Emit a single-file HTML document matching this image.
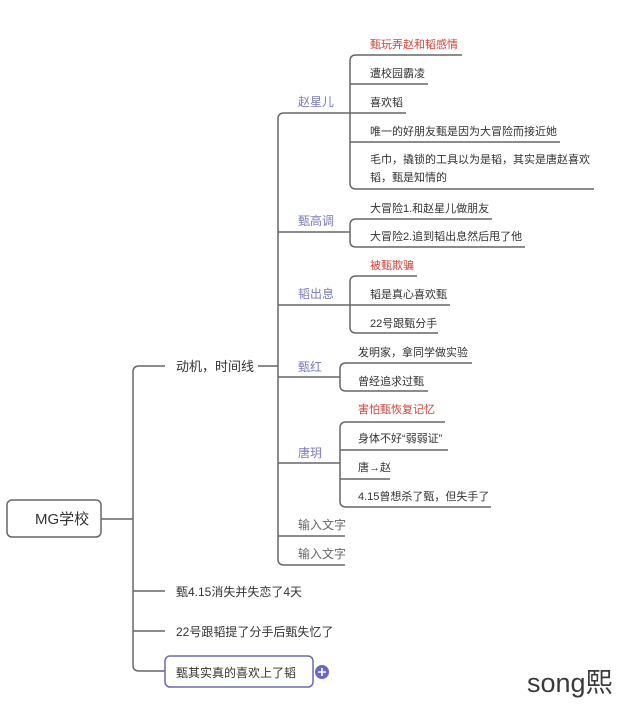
<!DOCTYPE html>
<html><head><meta charset="utf-8"><style>
html,body{margin:0;padding:0;background:#fff;width:640px;height:715px;overflow:hidden}
svg text{font-family:"Liberation Sans","Noto Sans CJK SC",sans-serif}
</style></head><body>
<svg width="640" height="715" viewBox="0 0 640 715" xmlns="http://www.w3.org/2000/svg">
<g fill="none" stroke="#666" stroke-width="1.5">
<rect x="7" y="500" width="94" height="37" rx="5" ry="5"/>
<path d="M101,519 L133,519"/>
<path d="M165,366 L139,366 Q133,366 133,372 L133,665 Q133,671 139,671 L165,671"/>
<path d="M133,591 L165,591 M133,631 L165,631"/>
<path d="M258,366 L278,366"/>
<path d="M350,113 L284,113 Q278,113 278,119 L278,559 Q278,565 284,565 L345,565"/>
<path d="M278,232 L350,232 M278,305 L350,305 M278,377 L340,377 M278,463 L340,463 M278,536 L345,536"/>
<path d="M462,55 L356,55 Q350,55 350,61 L350,183 Q350,189 356,189 L594,189"/>
<path d="M350,84 L428,84 M350,113 L406,113 M350,142 L560,142"/>
<path d="M492,219 L356,219 Q350,219 350,225 L350,241 Q350,247 356,247 L525,247"/>
<path d="M417,276 L356,276 Q350,276 350,282 L350,327 Q350,333 356,333 L438,333"/>
<path d="M350,305 L450,305"/>
<path d="M472,363 L346,363 Q340,363 340,369 L340,385 Q340,391 346,391 L428,391"/>
<path d="M445,422 L346,422 Q340,422 340,428 L340,501 Q340,507 346,507 L491,507"/>
<path d="M340,450 L448,450 M340,479 L390,479"/>
</g>
<rect x="165" y="656" width="148" height="31" rx="5" ry="5" fill="#fff" stroke="#6a6ab0" stroke-width="1.5"/>
<circle cx="322" cy="672" r="7" fill="#6b67c9"/>
<path d="M318,672 L326,672 M322,668 L322,676" stroke="#fff" stroke-width="1.6"/>
<g font-size="11" fill="#333">
<text x="35" y="524" font-size="15">MG学校</text>
<text x="176" y="371" font-size="13">动机，时间线</text>
<text x="176" y="596" font-size="12">甄4.15消失并失恋了4天</text>
<text x="176" y="636" font-size="12">22号跟韬提了分手后甄失忆了</text>
<text x="176" y="677" font-size="12">甄其实真的喜欢上了韬</text>
<g fill="#7a7ab8" font-size="12">
<text x="298" y="106">赵星儿</text>
<text x="298" y="225">甄高调</text>
<text x="298" y="298">韬出息</text>
<text x="298" y="371">甄红</text>
<text x="298" y="457">唐玥</text>
</g>
<g fill="#666" font-size="12">
<text x="298" y="529">输入文字</text>
<text x="298" y="558">输入文字</text>
</g>
<g fill="#c9443c">
<text x="370" y="48">甄玩弄赵和韬感情</text>
<text x="370" y="269">被甄欺骗</text>
<text x="358" y="413">害怕甄恢复记忆</text>
</g>
<text x="370" y="77">遭校园霸凌</text>
<text x="370" y="106">喜欢韬</text>
<text x="370" y="135">唯一的好朋友甄是因为大冒险而接近她</text>
<text x="370" y="163">毛巾，撬锁的工具以为是韬，其实是唐赵喜欢</text>
<text x="370" y="181">韬，甄是知情的</text>
<text x="370" y="212">大冒险1.和赵星儿做朋友</text>
<text x="370" y="240">大冒险2.追到韬出息然后甩了他</text>
<text x="370" y="298">韬是真心喜欢甄</text>
<text x="370" y="327">22号跟甄分手</text>
<text x="358" y="356">发明家，拿同学做实验</text>
<text x="358" y="385">曾经追求过甄</text>
<text x="358" y="442">身体不好“弱弱证”</text>
<text x="358" y="471">唐→赵</text>
<text x="358" y="500">4.15曾想杀了甄，但失手了</text>
</g>
<text x="527" y="692" font-size="27" fill="#3a3a3a">song熙</text>
</svg>
</body></html>
